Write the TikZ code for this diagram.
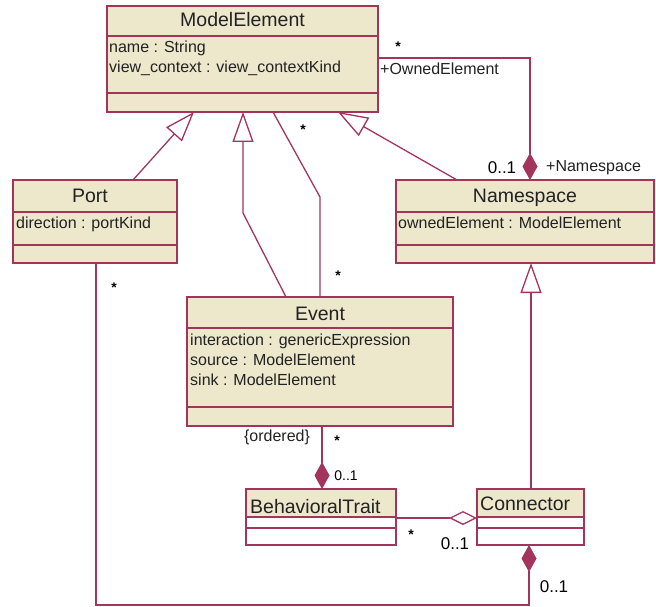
\documentclass[tikz,border=0pt]{standalone}
\usepackage{fontspec}
\setmainfont{Liberation Sans}
\usetikzlibrary{arrows.meta,calc}
\definecolor{umlline}{RGB}{163,52,90}
\definecolor{umlfill}{RGB}{237,231,203}
\definecolor{umltext}{RGB}{34,34,34}
\begin{document}
\begin{tikzpicture}[x=1pt,y=-1pt,
  cls/.style={draw=umlline, line width=1.6pt, fill=umlfill, rectangle, inner sep=0pt, outer sep=0pt, anchor=north west},
  clsplain/.style={draw=umlline, line width=1.6pt, rectangle, inner sep=0pt, outer sep=0pt, anchor=north west, fill=white,
    path picture={\fill[umlfill] (path picture bounding box.north west) rectangle ([yshift=-28pt]path picture bounding box.north east);}},
  divider/.style={draw=umlline, line width=1.3pt},
  title/.style={text=umltext, font=\fontsize{19.5}{22}\selectfont, inner sep=0pt, anchor=base},
  attr/.style={text=umltext, font=\fontsize{16}{19}\selectfont, inner sep=0pt, anchor=base west},
  lbl/.style={text=umltext, font=\fontsize{16}{19}\selectfont, inner sep=0pt},
  mult/.style={text=black, font=\fontsize{17}{20}\selectfont, inner sep=0pt},
  smallmult/.style={text=black, font=\fontsize{14}{17}\selectfont, inner sep=0pt},
  star/.style={text=black, font=\bfseries\fontsize{14}{17}\selectfont, inner sep=0pt},
  link/.style={draw=umlline, line width=1.3pt},
  gen/.style={link, -{Triangle[length=30pt,width=21pt,fill=white]}},
  comp/.style={link, -{Diamond[length=27pt,width=15pt,fill=umlline]}},
  aggr/.style={link, -{Diamond[length=28pt,width=14pt,fill=white]}}
]
\useasboundingbox (0,0) rectangle (656,607);

% ---- classes ----
\node[cls, minimum width=271pt, minimum height=106pt] (me) at (107,6) {};
\draw[divider] ($(me.north west)+(0,30)$) -- ($(me.north east)+(0,30)$);
\draw[divider] ($(me.north west)+(0,87)$) -- ($(me.north east)+(0,87)$);
\node[title] (me-t) at (242.5,27) {ModelElement};
\node[attr] (me-a1) at (109,53) {name : String};
\node[attr] (me-a2) at (109,73) {view\_context : view\_contextKind};

\node[cls, minimum width=164pt, minimum height=83pt] (port) at (13,180) {};
\draw[divider] ($(port.north west)+(0,32)$) -- ($(port.north east)+(0,32)$);
\draw[divider] ($(port.north west)+(0,65)$) -- ($(port.north east)+(0,65)$);
\node[title] (port-t) at (90,202) {Port};
\node[attr] (port-a1) at (16,228) {direction : portKind};

\node[cls, minimum width=258pt, minimum height=83pt] (ns) at (396,180) {};
\draw[divider] ($(ns.north west)+(0,32)$) -- ($(ns.north east)+(0,32)$);
\draw[divider] ($(ns.north west)+(0,65)$) -- ($(ns.north east)+(0,65)$);
\node[title] (ns-t) at (525,202) {Namespace};
\node[attr] (ns-a1) at (398,228) {ownedElement : ModelElement};

\node[cls, minimum width=266pt, minimum height=129pt] (ev) at (187,297) {};
\draw[divider] ($(ev.north west)+(0,31)$) -- ($(ev.north east)+(0,31)$);
\draw[divider] ($(ev.north west)+(0,110)$) -- ($(ev.north east)+(0,110)$);
\node[title] (ev-t) at (320,320) {Event};
\node[attr] (ev-a1) at (190,345) {interaction : genericExpression};
\node[attr] (ev-a2) at (190,365) {source : ModelElement};
\node[attr] (ev-a3) at (190,385) {sink : ModelElement};

\node[clsplain, minimum width=150pt, minimum height=56pt] (bt) at (246,489) {};
\draw[divider] ($(bt.north west)+(0,28)$) -- ($(bt.north east)+(0,28)$);
\draw[divider] ($(bt.north west)+(0,39)$) -- ($(bt.north east)+(0,39)$);
\node[title, anchor=base west] (bt-t) at (250,513) {BehavioralTrait};

\node[clsplain, minimum width=107pt, minimum height=56pt] (con) at (477,489) {};
\draw[divider] ($(con.north west)+(0,28)$) -- ($(con.north east)+(0,28)$);
\draw[divider] ($(con.north west)+(0,39)$) -- ($(con.north east)+(0,39)$);
\node[title, anchor=base west] (con-t) at (480,510) {Connector};

% ---- generalizations ----
\draw[gen] ($(port.north west)+(120,0)$) -- ($(me.south west)+(87,0)$);
\coordinate (evbend) at ($(me.south west)+(136,101)$);
\draw[gen] ($(ev.north west)+(99,0)$) -- (evbend) -- ($(me.south west)+(136,0)$);
\draw[gen] ($(ns.north west)+(61,0)$) -- ($(me.south west)+(231,0)$);
\draw[gen] ($(con.north west)+(54,0)$) -- ($(ns.south west)+(135,0)$);

% ---- associations ----
\coordinate (asbend) at ($(ev.north west)+(133,-100)$);
\draw[link] ($(me.south west)+(166,0)$) -- (asbend) -- ($(ev.north west)+(133,0)$);

\coordinate (ownc) at ($(ns.north west)+(134,-122)$);
\draw[comp] ($(me.north east)+(0,52)$) -- (ownc) -- ($(ns.north west)+(134,0)$);

\draw[comp] ($(ev.south west)+(135,0)$) -- ($(bt.north west)+(76,0)$);

\draw[aggr] ($(bt.north east)+(0,29)$) -- ($(con.north west)+(0,29)$);

\coordinate (pc1) at ($(port.south west)+(83,342)$);
\coordinate (pc2) at ($(con.south west)+(52,60)$);
\draw[comp] ($(port.south west)+(83,0)$) -- (pc1) -- (pc2) -- ($(con.south west)+(52,0)$);

% ---- role names and multiplicities ----
\node[star] (m1) at (398,47) {*};
\node[lbl, anchor=west] (r1) at (380,69) {+OwnedElement};
\node[mult] (m2) at (502,168) {0..1};
\node[lbl, anchor=west] (r2) at (546,168) {+Namespace};
\node[star] (m3) at (303,130) {*};
\node[star] (m4) at (338,276) {*};
\node[star] (m5) at (114,288) {*};
\node[lbl] (r3) at (277,437) {\{ordered\}};
\node[star] (m6) at (337,441) {*};
\node[smallmult] (m7) at (346,476) {0..1};
\node[star] (m8) at (411,535) {*};
\node[mult] (m9) at (455,544) {0..1};
\node[mult] (m10) at (554,587) {0..1};
\end{tikzpicture}
\end{document}
